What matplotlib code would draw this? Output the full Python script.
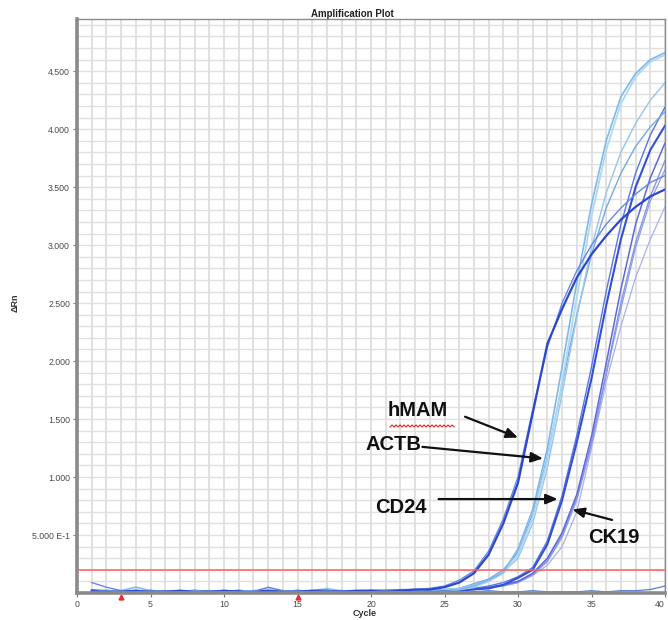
import matplotlib
matplotlib.use("Agg")
import matplotlib.pyplot as plt
from matplotlib.ticker import MultipleLocator, FixedLocator, FixedFormatter
from matplotlib.lines import Line2D
import numpy as np

plt.rcParams['font.family'] = ['Liberation Sans', 'DejaVu Sans']

# ---------------- data ----------------
cycles = list(range(1, 41))

hMAM_1 = [0.02,0.01,0.01,0.02,0.01,0.01,0.02,0.01,0.01,0.02,0.01,0.01,0.02,0.01,0.01,0.02,0.02,0.01,0.02,0.02,0.02,0.02,0.03,0.03,
          0.05,0.09,0.17,0.33,0.60,0.95,1.55,2.15,2.45,2.72,2.92,3.08,3.22,3.33,3.42,3.48]
hMAM_2 = [0.09,0.05,0.02,0.01,0.01,0.02,0.01,0.01,0.02,0.01,0.01,0.01,0.02,0.01,0.02,0.01,0.02,0.02,0.01,0.02,0.02,0.03,0.03,0.04,
          0.06,0.11,0.19,0.36,0.64,1.00,1.58,2.12,2.50,2.78,3.00,3.18,3.32,3.44,3.54,3.60]
ACTB_1 = [0.02,0.01,0.02,0.05,0.02,0.01,0.01,0.02,0.01,0.01,0.01,0.02,0.01,0.01,0.02,0.01,0.01,0.02,0.01,0.02,0.01,0.02,0.02,0.02,0.02,
          0.03,0.06,0.11,0.18,0.38,0.72,1.25,1.95,2.68,3.35,3.90,4.28,4.48,4.60,4.66]
ACTB_2 = [0.01,0.02,0.01,0.01,0.02,0.01,0.01,0.01,0.02,0.01,0.01,0.02,0.04,0.02,0.01,0.01,0.02,0.01,0.01,0.02,0.01,0.02,0.02,0.02,0.02,
          0.03,0.05,0.10,0.17,0.33,0.65,1.15,1.82,2.55,3.25,3.82,4.22,4.45,4.58,4.64]
ACTB_3 = [0.02,0.01,0.01,0.02,0.01,0.02,0.01,0.01,0.01,0.02,0.01,0.01,0.01,0.02,0.01,0.02,0.04,0.02,0.01,0.01,0.02,0.02,0.01,0.02,0.03,
          0.04,0.07,0.11,0.18,0.30,0.60,1.08,1.72,2.38,2.98,3.45,3.80,4.05,4.25,4.40]
ACTB_4 = [0.01,0.01,0.02,0.01,0.01,0.01,0.02,0.01,0.02,0.01,0.01,0.02,0.01,0.01,0.01,0.02,0.01,0.02,0.01,0.02,0.02,0.01,0.02,0.02,0.03,
          0.04,0.08,0.12,0.20,0.35,0.68,1.18,1.80,2.40,2.92,3.32,3.62,3.85,4.02,4.15]
CD24_1 = [0.01,0.02,0.01,0.01,0.02,0.01,0.01,0.02,0.01,0.01,0.02,0.01,0.01,0.01,0.02,0.01,0.02,0.01,0.01,0.02,0.01,0.01,0.02,0.02,0.02,
          0.02,0.03,0.04,0.07,0.13,0.20,0.42,0.80,1.30,1.85,2.48,3.05,3.50,3.82,4.03]
CD24_2 = [0.02,0.01,0.01,0.02,0.01,0.01,0.02,0.01,0.01,0.01,0.02,0.01,0.02,0.01,0.01,0.02,0.01,0.01,0.02,0.01,0.02,0.02,0.01,0.02,0.02,
          0.03,0.04,0.06,0.09,0.14,0.22,0.45,0.84,1.36,1.95,2.60,3.18,3.62,3.95,4.19]
CK19_1 = [0.01,0.01,0.02,0.01,0.02,0.01,0.01,0.01,0.02,0.01,0.01,0.02,0.01,0.02,0.01,0.01,0.01,0.02,0.01,0.01,0.02,0.01,0.02,0.02,0.02,
          0.03,0.04,0.05,0.07,0.10,0.17,0.30,0.52,0.85,1.35,1.98,2.62,3.18,3.58,3.88]
CK19_2 = [0.02,0.01,0.01,0.01,0.02,0.01,0.02,0.01,0.01,0.02,0.01,0.01,0.02,0.01,0.01,0.02,0.01,0.01,0.01,0.02,0.01,0.02,0.02,0.01,0.02,
          0.03,0.04,0.05,0.07,0.10,0.16,0.28,0.50,0.82,1.30,1.90,2.50,3.02,3.42,3.73]
CK19_3 = [0.01,0.02,0.01,0.02,0.01,0.01,0.01,0.02,0.01,0.01,0.02,0.01,0.01,0.02,0.01,0.01,0.02,0.01,0.02,0.01,0.01,0.02,0.02,0.02,0.02,
          0.03,0.04,0.05,0.06,0.09,0.16,0.27,0.48,0.80,1.28,1.88,2.45,2.98,3.38,3.65]
slow_1 = [0.02,0.01,0.01,0.01,0.02,0.01,0.01,0.02,0.01,0.01,0.01,0.02,0.01,0.01,0.02,0.01,0.01,0.02,0.01,0.01,0.02,0.01,0.02,0.02,0.02,
          0.03,0.03,0.04,0.06,0.09,0.15,0.24,0.40,0.70,1.25,1.82,2.30,2.72,3.05,3.33]
ntc_1 = [0.03,0.02,0.01,0.01,0.02,0.01,0.01,0.01,0.02,0.01,0.01,0.01,0.05,0.02,0.01,0.01,0.02,0.01,0.01,0.01,0.02,0.01,0.01,0.01,0.02,
         0.01,0.01,0.02,0.01,0.01,0.02,0.01,0.01,0.01,0.02,0.01,0.02,0.02,0.03,0.06]

threshold = 0.2
baseline_start = 3
baseline_end = 15

x_ticks = [0, 5, 10, 15, 20, 25, 30, 35, 40]
y_ticks = [0.5, 1.0, 1.5, 2.0, 2.5, 3.0, 3.5, 4.0, 4.5]
y_tick_labels = ["5.000 E-1", "1.000", "1.500", "2.000", "2.500", "3.000", "3.500", "4.000", "4.500"]

# ---------------- figure ----------------
W, H = 668, 620
fig = plt.figure(figsize=(W / 100, H / 100), dpi=100)
ax = fig.add_axes([77 / W, 27 / H, 588 / W, 574 / H])
ax.set_xlim(0, 40)
ax.set_ylim(0, 4.95)

# grid
ax.xaxis.set_minor_locator(MultipleLocator(1))
ax.yaxis.set_minor_locator(MultipleLocator(0.1))
ax.grid(which='both', axis='x', color='#d8d8d8', linewidth=1.1)
ax.grid(which='both', axis='y', color='#e0e0e0', linewidth=1.0)
ax.set_axisbelow(True)

series = [
    (slow_1, '#a8b0e8', 0.9),
    (CK19_3, '#86a2e8', 0.9),
    (CK19_2, '#8c94e4', 1.0),
    (CK19_1, '#6068da', 1.1),
    (CD24_2, '#5a76e2', 1.0),
    (CD24_1, '#3450d4', 1.5),
    (ACTB_4, '#78a8e2', 1.0),
    (ACTB_3, '#96c6ec', 1.0),
    (ACTB_2, '#aed8f2', 1.3),
    (ACTB_1, '#80b8e8', 1.2),
    (hMAM_2, '#6688e2', 1.0),
    (hMAM_1, '#2c48cc', 1.6),
    (ntc_1, '#5a7ed4', 0.9),
]
for vals, col, lw in series:
    ax.plot(cycles, vals, color=col, linewidth=lw, solid_joinstyle='round')

ax.axhline(threshold, color='#ff6060', linewidth=1.1, zorder=5)

# baseline start/end markers
ax.plot([baseline_start, baseline_end], [-0.035, -0.035], linestyle='none', marker='^',
        markersize=3.5, color='#e03030', clip_on=False, zorder=6)

# spines
for s in ['top', 'right']:
    ax.spines[s].set_color('#8a8a8a')
    ax.spines[s].set_linewidth(1.0)
for s in ['left', 'bottom']:
    ax.spines[s].set_color('#8a8a8a')
    ax.spines[s].set_linewidth(2.6)

ax.xaxis.set_major_locator(FixedLocator(x_ticks))
ax.set_xticklabels([str(t) for t in x_ticks])
ax.yaxis.set_major_locator(FixedLocator(y_ticks))
ax.yaxis.set_major_formatter(FixedFormatter(y_tick_labels))
ax.tick_params(which='major', length=3, width=0.8, color='#777777', labelsize=6.3,
               labelcolor='#4a4a4a', pad=2)
ax.tick_params(which='minor', length=0)
xl = ax.get_xticklabels()
xl[-1].set_horizontalalignment('right')

ax.set_ylabel('ΔRn', fontsize=6.5, fontweight='bold', color='#333333')
ax.yaxis.set_label_coords(-57 / 588, 0.505)
fig.text(365 / W, 6.5 / H, 'Cycle', ha='center', va='center',
         fontsize=6.5, fontweight='bold', color='#333333')

fig.text(352 / W, 1 - 14 / H, 'Amplification Plot', ha='center', va='center',
         fontsize=7, fontweight='bold', color='#222222')

# annotations
arrow_kw = dict(arrowstyle='-|>,head_length=0.7,head_width=0.3', color='#111111', lw=1.6,
                shrinkA=0, shrinkB=0)
txt_kw = dict(fontsize=14.5, fontweight='bold', color='#111111', va='center')

ax.annotate('', xy=(30.0, 1.34), xytext=(26.4, 1.52), arrowprops=arrow_kw)
ax.text(21.1, 1.57, 'hMAM', ha='left', **txt_kw)
ax.annotate('', xy=(31.7, 1.16), xytext=(23.5, 1.26), arrowprops=arrow_kw)
ax.text(19.6, 1.28, 'ACTB', ha='left', **txt_kw)
ax.annotate('', xy=(32.7, 0.81), xytext=(24.6, 0.81), arrowprops=arrow_kw)
ax.text(20.3, 0.74, 'CD24', ha='left', **txt_kw)
ax.annotate('', xy=(33.7, 0.72), xytext=(36.4, 0.63), arrowprops=arrow_kw)
ax.text(34.8, 0.48, 'CK19', ha='left', **txt_kw)

# red squiggly underline under hMAM (spell-check mark)
zx = np.arange(390, 456, 2.0)
zy = 194 + np.where(np.arange(len(zx)) % 2 == 0, -1.0, 1.0)
fig.add_artist(Line2D(zx / W, zy / H, transform=fig.transFigure, color='#e02020', linewidth=0.8))

fig.savefig('out.png', dpi=100, facecolor='white')
